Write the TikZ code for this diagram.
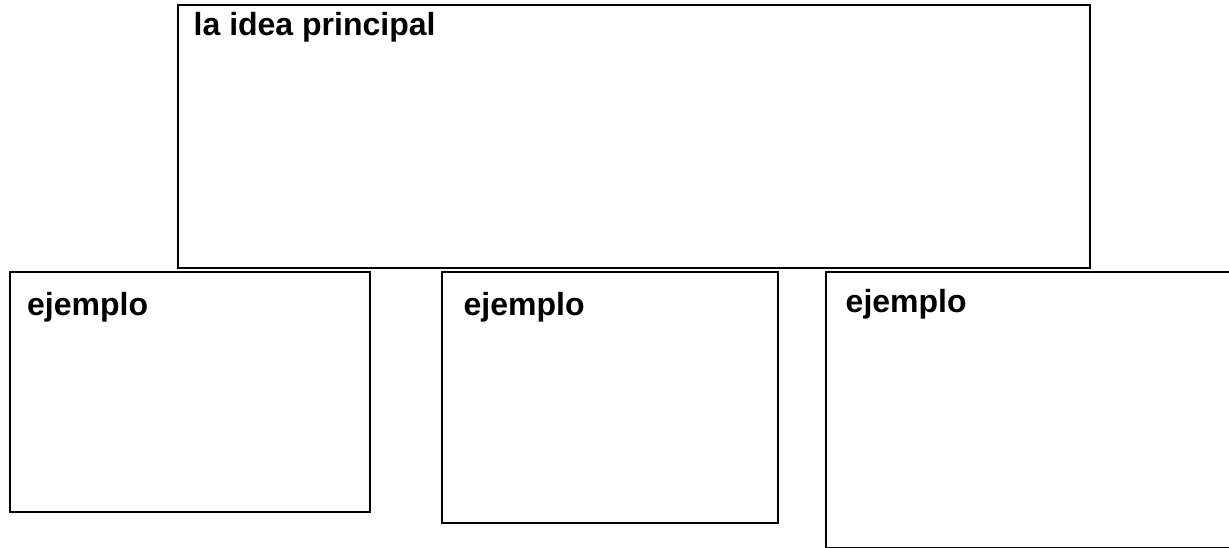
\documentclass[tikz,border=0pt]{standalone}
\usepackage{fontspec}
\setmainfont{Liberation Sans}
\begin{document}
\begin{tikzpicture}[x=1pt,y=-1pt,
  boxstyle/.style={draw=black, line width=1.8pt, rectangle, anchor=north west, inner sep=0pt},
  lbl/.style={anchor=base west, inner sep=0pt, font=\fontsize{32}{38}\selectfont\bfseries}]
\useasboundingbox (0,0) rectangle (1229,548);
\clip (0,0) rectangle (1229,548);
\fill[white] (0,0) rectangle (1229,548);
\node[boxstyle, minimum width=912pt, minimum height=263pt] (main) at (177,4) {};
\node[boxstyle, minimum width=360pt, minimum height=240pt] (ex1) at (9,271) {};
\node[boxstyle, minimum width=336pt, minimum height=251pt] (ex2) at (441,271) {};
\node[boxstyle, minimum width=425pt, minimum height=276pt] (ex3) at (825,271) {};
\node[lbl] (tmain) at (193.5,36) {la idea principal};
\node[lbl] (t1) at (27,315.5) {ejemplo};
\node[lbl] (t2) at (463.5,315.5) {ejemplo};
\node[lbl] (t3) at (845.5,312) {ejemplo};
\end{tikzpicture}
\end{document}
